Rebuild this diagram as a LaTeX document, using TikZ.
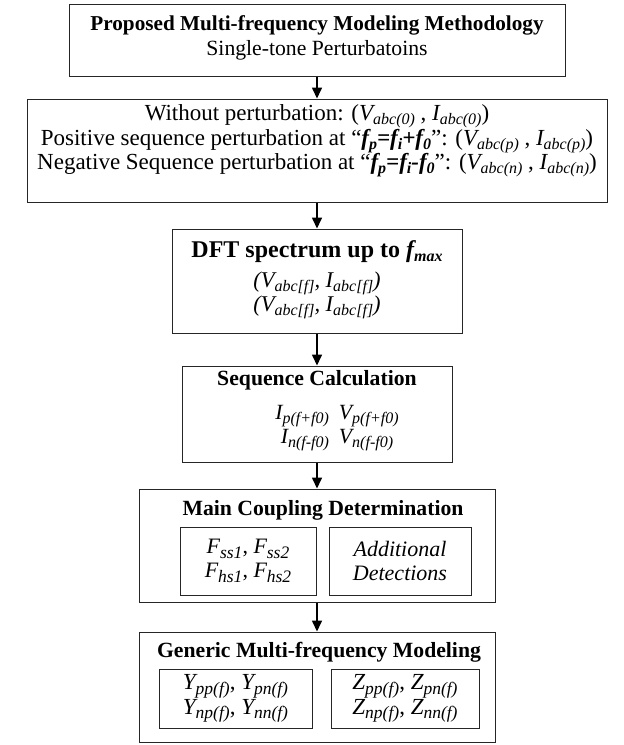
\documentclass[tikz,border=0pt]{standalone}
\usepackage{fontspec}
\setmainfont{Liberation Serif}
\usetikzlibrary{arrows.meta}
\newcommand{\dn}[1]{\raisebox{-4pt}{\fontsize{16}{16}\selectfont #1}}
\newcommand{\dnb}[1]{\raisebox{-4.5pt}{\fontsize{17.5}{17}\selectfont #1}}
\begin{document}
\begin{tikzpicture}[x=1pt,y=-1pt,
  box/.style={draw=black!85, line width=1pt, inner sep=0pt},
  inbox/.style={draw=black!85, line width=1pt, inner sep=0pt, align=center, font=\fontsize{22}{24}\selectfont\itshape},
  txt/.style={inner sep=0pt, align=center, font=\fontsize{23}{23}\selectfont},
  head/.style={inner sep=0pt, align=center, font=\fontsize{21.7}{23}\selectfont\bfseries},
  flow/.style={-{Triangle[length=11pt,width=10pt]}, line width=1.6pt}]
\useasboundingbox (0,0) rectangle (624,745);
\fill[white] (0,0) rectangle (624,745);
% boxes
\node[box, minimum width=496pt, minimum height=72pt] (b1) at (317,40) {};
\node[box, minimum width=580pt, minimum height=103pt] (b2) at (317,150.5) {};
\node[box, minimum width=290pt, minimum height=104pt] (b3) at (317,281) {};
\node[box, minimum width=270pt, minimum height=96pt] (b4) at (317,414) {};
\node[box, minimum width=356pt, minimum height=113pt] (b5) at (317,545.5) {};
\node[box, minimum width=356pt, minimum height=110pt] (b6) at (317,687) {};
% box 1
\node[txt, font=\fontsize{21.7}{25}\selectfont] (t1) at (317,38) {{\fontsize{21.2}{25}\selectfont\bfseries Proposed Multi-frequency Modeling Methodology}\\Single-tone Perturbatoins};
% box 2
\node[txt] (t2) at (317,141) {Without perturbation: (\textit{V\dn{abc(0)}} , \textit{I\dn{abc(0)}})\\
Positive sequence perturbation at “\textbf{\textit{f\dn{p}=f\dn{i}+f\dn{0}}}”: (\textit{V\dn{abc(p)}} , \textit{I\dn{abc(p)}})\\
Negative Sequence perturbation at “\textbf{\textit{f\dn{p}=f\dn{i}-f\dn{0}}}”: (\textit{V\dn{abc(n)}} , \textit{I\dn{abc(n)}})};
% box 3
\node[head, font=\fontsize{24}{26}\selectfont\bfseries] (h3) at (317,252) {DFT spectrum up to \textit{f\dn{max}}};
\node[txt, font=\fontsize{22.5}{24}\selectfont\itshape] (t3) at (317,295) {(V\dn{abc[f]}, I\dn{abc[f]})\\(V\dn{abc[f]}, I\dn{abc[f]})};
% box 4
\node[head] (h4) at (317,380) {Sequence Calculation};
\node[txt, font=\fontsize{21.7}{24}\selectfont\itshape] (t4) at (337,427) {\begin{tabular}{@{}r@{\hspace{10pt}}l@{}}I\dn{p(f+f0)} & V\dn{p(f+f0)}\\ I\dn{n(f-f0)} & V\dn{n(f-f0)}\end{tabular}};
% box 5
\node[head] (h5) at (323,510) {Main Coupling Determination};
\node[inbox, minimum width=136pt, minimum height=68pt] (f5) at (248,561) {F\dnb{ss1}\upshape, \itshape F\dnb{ss2}\\F\dnb{hs1}\upshape, \itshape F\dnb{hs2}};
\node[inbox, minimum width=142pt, minimum height=68pt] (a5) at (400,561) {Additional\\Detections};
% box 6
\node[head] (h6) at (319,652) {Generic Multi-frequency Modeling};
\node[inbox, font=\fontsize{23}{22}\selectfont\itshape, minimum width=153pt, minimum height=59pt] (y6) at (235.5,698.5) {Y\dnb{pp(f)}\upshape, \itshape Y\dnb{pn(f)}\\Y\dnb{np(f)}\upshape, \itshape Y\dnb{nn(f)}};
\node[inbox, font=\fontsize{23}{22}\selectfont\itshape, minimum width=148pt, minimum height=59pt] (z6) at (405,698.5) {Z\dnb{pp(f)}\upshape, \itshape Z\dnb{pn(f)}\\Z\dnb{np(f)}\upshape, \itshape Z\dnb{nn(f)}};
% arrows
\draw[flow] (b1.south) -- (b2.north);
\draw[flow] (b2.south) -- (b3.north);
\draw[flow] (b3.south) -- (b4.north);
\draw[flow] (b4.south) -- (b5.north);
\draw[flow] (b5.south) -- (b6.north);
\end{tikzpicture}
\end{document}
